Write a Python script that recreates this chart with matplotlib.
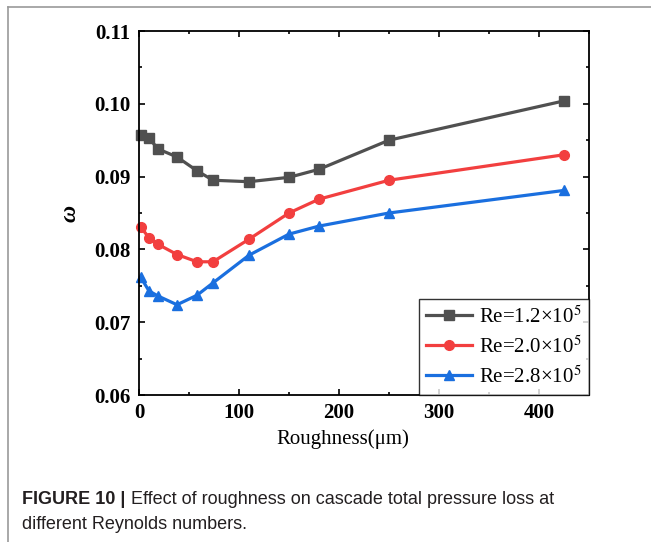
import matplotlib
matplotlib.use('Agg')
import matplotlib.pyplot as plt
from matplotlib.lines import Line2D
from matplotlib.ticker import MultipleLocator, FormatStrFormatter

plt.rcParams['font.family'] = ['Liberation Serif', 'DejaVu Serif']
plt.rcParams['mathtext.fontset'] = 'stix'

# Rugosidade (um) e perda de pressão total para cada Reynolds
rugosidade = [1.6, 10, 19, 38, 58, 74, 110, 150, 180, 250, 425]
omega_re12 = [0.0957, 0.0953, 0.0938, 0.0927, 0.0908, 0.0895, 0.0893, 0.0899, 0.0910, 0.0950, 0.1004]
omega_re20 = [0.0831, 0.0816, 0.0807, 0.0793, 0.0783, 0.0783, 0.0814, 0.0850, 0.0869, 0.0895, 0.0930]
omega_re28 = [0.0762, 0.0743, 0.0736, 0.0724, 0.0737, 0.0754, 0.0792, 0.0821, 0.0832, 0.0850, 0.0881]

legendas = [r'Re=1.2×10$^5$', r'Re=2.0×10$^5$', r'Re=2.8×10$^5$']
cores = ['#505050', '#f23f3f', '#1a6fdf']
marcadores = ['s', 'o', '^']

fig = plt.figure(figsize=(6.51, 5.42), dpi=100)
ax = fig.add_axes([0.2135, 0.2712, 0.6912, 0.6716])

for y, lab, cor, m in zip([omega_re12, omega_re20, omega_re28], legendas, cores, marcadores):
    ax.plot(rugosidade, y, color=cor, marker=m, markersize=7, linewidth=2.3,
            label=lab, clip_on=False)

ax.set_xlim(0, 450)
ax.set_ylim(0.06, 0.11)
ax.xaxis.set_major_locator(MultipleLocator(100))
ax.xaxis.set_minor_locator(MultipleLocator(50))
ax.yaxis.set_major_locator(MultipleLocator(0.01))
ax.yaxis.set_minor_locator(MultipleLocator(0.005))
ax.yaxis.set_major_formatter(FormatStrFormatter('%.2f'))

ax.tick_params(which='both', direction='in', top=True, right=True, width=1.2)
ax.tick_params(which='major', length=4.5, labelsize=15, pad=6)
ax.tick_params(which='minor', length=2.5)
for lbl in ax.get_xticklabels() + ax.get_yticklabels():
    lbl.set_fontweight('bold')
for s in ax.spines.values():
    s.set_linewidth(1.3)

ax.set_xlabel('Roughness(μm)', fontsize=15)
ax.xaxis.set_label_coords(0.453, -0.095)
ax.set_ylabel('ω', fontsize=17, fontweight='bold', fontstyle='italic')
ax.yaxis.set_label_coords(-0.13, 0.5)

leg = ax.legend(loc='lower right', fontsize=15, frameon=True, fancybox=False,
                edgecolor='black', borderaxespad=0, handlelength=2.2,
                handletextpad=0.35, labelspacing=0.4, borderpad=0.35)
leg.get_frame().set_linewidth(1.0)

# Legenda da figura
cap = fig.text(0.034, 1 - 504 / 542, 'FIGURE 10 |', fontsize=13, fontweight='bold',
               family='Liberation Sans', color='#231f20', va='baseline')
ax.annotate(' Effect of roughness on cascade total pressure loss at', xy=(1, 0),
            xycoords=cap, va='bottom', ha='left', fontsize=13,
            family='Liberation Sans', color='#231f20', annotation_clip=False)
fig.text(0.034, 1 - 529 / 542, 'different Reynolds numbers.', fontsize=13,
         family='Liberation Sans', color='#231f20', va='baseline')

# Moldura cinza no topo e à esquerda
fig.add_artist(Line2D([8 / 651, 1], [1 - 7 / 542] * 2, color='#9a9a9a', linewidth=1.2))
fig.add_artist(Line2D([8 / 651] * 2, [0, 1 - 7 / 542], color='#9a9a9a', linewidth=1.2))

fig.savefig('out.png', dpi=100)
